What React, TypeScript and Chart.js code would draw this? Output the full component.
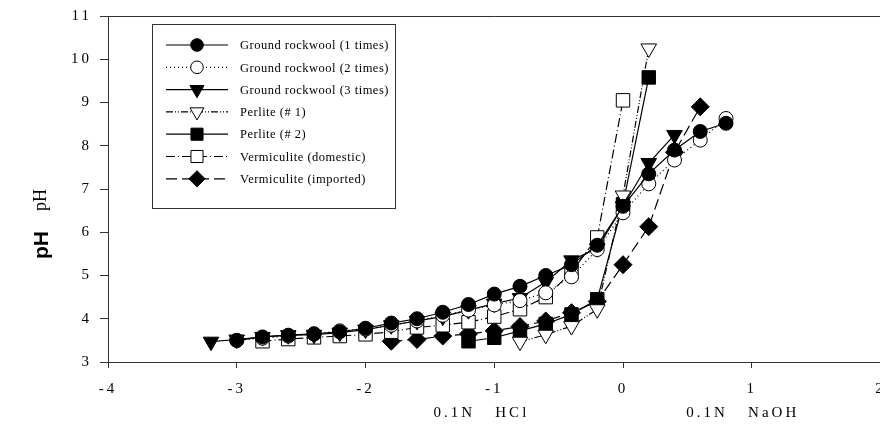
import React, { useEffect, useRef } from 'react';
import { Chart, registerables } from 'chart.js';
Chart.register(...registerables);

// ---- data ----
const gr1X = [-3.0, -2.8, -2.6, -2.4, -2.2, -2.0, -1.8, -1.6, -1.4, -1.2, -1.0, -0.8, -0.6, -0.4, -0.2, 0, 0.2, 0.4, 0.6, 0.8];
const gr1Y = [3.5, 3.58, 3.62, 3.65, 3.7, 3.78, 3.9, 4.0, 4.15, 4.33, 4.57, 4.75, 5.0, 5.25, 5.7, 6.6, 7.35, 7.9, 8.33, 8.52];
const gr2X = [-3.0, -2.8, -2.6, -2.4, -2.2, -2.0, -1.8, -1.6, -1.4, -1.2, -1.0, -0.8, -0.6, -0.4, -0.2, 0, 0.2, 0.4, 0.6, 0.8];
const gr2Y = [3.5, 3.55, 3.6, 3.65, 3.72, 3.76, 3.85, 3.95, 4.08, 4.2, 4.32, 4.42, 4.6, 4.97, 5.6, 6.45, 7.12, 7.67, 8.13, 8.63];
const gr3X = [-3.2, -3.0, -2.8, -2.6, -2.4, -2.2, -2.0, -1.8, -1.6, -1.4, -1.2, -1.0, -0.8, -0.6, -0.4, -0.2, 0, 0.2, 0.4];
const gr3Y = [3.47, 3.52, 3.58, 3.62, 3.63, 3.68, 3.75, 3.85, 3.95, 4.05, 4.2, 4.35, 4.48, 4.85, 5.35, 5.63, 6.6, 7.6, 8.25];
const p1X = [-0.8, -0.6, -0.4, -0.2, 0, 0.2];
const p1Y = [3.47, 3.63, 3.83, 4.22, 6.85, 10.25];
const p2X = [-1.2, -1.0, -0.8, -0.6, -0.4, -0.2, 0, 0.2];
const p2Y = [3.48, 3.56, 3.72, 3.88, 4.1, 4.45, 6.65, 9.58];
const vdX = [-2.8, -2.6, -2.4, -2.2, -2.0, -1.8, -1.6, -1.4, -1.2, -1.0, -0.8, -0.6, -0.4, -0.2, 0];
const vdY = [3.48, 3.53, 3.57, 3.6, 3.64, 3.7, 3.8, 3.85, 3.92, 4.05, 4.22, 4.5, 5.08, 5.88, 9.05];
const viX = [-1.8, -1.6, -1.4, -1.2, -1.0, -0.8, -0.6, -0.4, -0.2, 0, 0.2, 0.4, 0.6];
const viY = [3.48, 3.52, 3.6, 3.65, 3.72, 3.82, 3.95, 4.14, 4.4, 5.25, 6.13, 7.85, 8.9];

const seriesLabels = [
  'Ground rockwool (1 times)',
  'Ground rockwool (2 times)',
  'Ground rockwool (3 times)',
  'Perlite (# 1)',
  'Perlite (# 2)',
  'Vermiculite (domestic)',
  'Vermiculite (imported)',
];
const xTitleLeft = '0.1N   HCl';
const xTitleRight = '0.1N   NaOH';
const yTitleBold = 'pH';
const yTitleSerif = 'pH';

const SERIF = '"Liberation Serif", "Times New Roman", serif';
const SANS = '"Liberation Sans", Arial, sans-serif';

type Style = { pointStyle: string; fill: boolean; dash: number[]; radius: number; rot: number };
const styles: Style[] = [
  { pointStyle: 'circle', fill: true, dash: [], radius: 7, rot: 0 },
  { pointStyle: 'circle', fill: false, dash: [1, 3], radius: 7, rot: 0 },
  { pointStyle: 'triangle', fill: true, dash: [], radius: 9, rot: 180 },
  { pointStyle: 'triangle', fill: false, dash: [7, 2, 1, 2, 1, 2], radius: 9, rot: 180 },
  { pointStyle: 'rect', fill: true, dash: [], radius: 9.5, rot: 0 },
  { pointStyle: 'rect', fill: false, dash: [9, 3, 1, 3], radius: 9.5, rot: 0 },
  { pointStyle: 'rectRot', fill: true, dash: [11, 5], radius: 9, rot: 0 },
];

function drawMarker(ctx: CanvasRenderingContext2D, s: Style, x: number, y: number, r: number) {
  ctx.save();
  ctx.setLineDash([]);
  ctx.lineWidth = 1;
  ctx.strokeStyle = '#000';
  ctx.fillStyle = s.fill ? '#000' : '#fff';
  ctx.beginPath();
  if (s.pointStyle === 'circle') {
    ctx.arc(x, y, r, 0, Math.PI * 2);
  } else if (s.pointStyle === 'triangle') {
    const rad = (s.rot * Math.PI) / 180;
    for (let i = 0; i < 3; i++) {
      const a = rad + (i * 2 * Math.PI) / 3;
      const px = x + Math.sin(a) * r;
      const py = y - Math.cos(a) * r;
      if (i === 0) ctx.moveTo(px, py);
      else ctx.lineTo(px, py);
    }
    ctx.closePath();
  } else if (s.pointStyle === 'rect') {
    const h = r * Math.SQRT1_2;
    ctx.rect(x - h, y - h, 2 * h, 2 * h);
  } else {
    ctx.moveTo(x, y - r);
    ctx.lineTo(x + r, y);
    ctx.lineTo(x, y + r);
    ctx.lineTo(x - r, y);
    ctx.closePath();
  }
  ctx.fill();
  ctx.stroke();
  ctx.restore();
}

const CANVAS_W = 891;

export default function App() {
  const ref = useRef<HTMLCanvasElement>(null);
  useEffect(() => {
    document.body.style.margin = '0';
    const canvas = ref.current!;
    const mk = (xs: number[], ys: number[]) => xs.map((x, i) => ({ x, y: ys[i] }));
    const xsList = [gr1X, gr2X, gr3X, p1X, p2X, vdX, viX];
    const ysList = [gr1Y, gr2Y, gr3Y, p1Y, p2Y, vdY, viY];
    const datasets = seriesLabels.map((label, i) => {
      const s = styles[i];
      return {
        label,
        data: mk(xsList[i], ysList[i]),
        showLine: true,
        borderColor: '#000',
        borderWidth: 1.2,
        borderDash: s.dash,
        pointStyle: s.pointStyle,
        pointRotation: s.rot,
        pointRadius: s.radius,
        pointBorderWidth: 1,
        pointBorderColor: '#000',
        pointBackgroundColor: s.fill ? '#000' : '#fff',
        tension: 0,
      };
    });

    const overlay = {
      id: 'overlay',
      beforeDraw(chart: any) {
        const c = chart.ctx as CanvasRenderingContext2D;
        c.save();
        c.fillStyle = '#fff';
        c.fillRect(0, 0, chart.width, chart.height);
        c.restore();
        (c as any).letterSpacing = '3px';
      },
      afterDraw(chart: any) {
        const c = chart.ctx as CanvasRenderingContext2D;
        const area = chart.chartArea;
        const xs = chart.scales.x;
        c.save();
        // top frame line
        c.strokeStyle = '#333';
        c.lineWidth = 1;
        c.beginPath();
        c.moveTo(area.left, Math.round(area.top) + 0.5);
        c.lineTo(area.right, Math.round(area.top) + 0.5);
        c.stroke();

        // x sub titles
        (c as any).letterSpacing = '3px';
        c.fillStyle = '#000';
        c.font = `15px ${SERIF}`;
        c.textAlign = 'center';
        c.textBaseline = 'middle';
        c.fillText(xTitleLeft, xs.getPixelForValue(-1.1), 413);
        c.fillText(xTitleRight, xs.getPixelForValue(0.93), 413);

        // y title
        (c as any).letterSpacing = '0px';
        c.save();
        c.translate(42, 259);
        c.rotate(-Math.PI / 2);
        c.textAlign = 'left';
        c.textBaseline = 'middle';
        c.font = `bold 21px ${SANS}`;
        c.fillText(yTitleBold, 0, 0);
        const w = c.measureText(yTitleBold).width;
        c.font = `18px ${SERIF}`;
        c.fillText(yTitleSerif, w + 20, -1);
        c.restore();

        // legend
        const bx = 152.5, by = 24.5, bw = 243, bh = 184;
        c.fillStyle = '#fff';
        c.fillRect(bx, by, bw, bh);
        c.strokeStyle = '#333';
        c.lineWidth = 1;
        c.setLineDash([]);
        c.strokeRect(bx, by, bw, bh);
        seriesLabels.forEach((label, i) => {
          const s = styles[i];
          const y = 45 + i * 22.3;
          c.save();
          c.strokeStyle = '#000';
          c.lineWidth = 1.2;
          c.setLineDash(s.dash);
          c.beginPath();
          c.moveTo(166, y);
          c.lineTo(228, y);
          c.stroke();
          c.restore();
          drawMarker(c, s, 197, y, s.radius * 0.9);
          c.fillStyle = '#000';
          (c as any).letterSpacing = '0.5px';
          c.font = `12.5px ${SERIF}`;
          c.textAlign = 'left';
          c.textBaseline = 'middle';
          c.fillText(label, 240, y + 1);
        });
        c.restore();
      },
    };

    const chart = new Chart(canvas, {
      type: 'scatter',
      data: { datasets } as any,
      options: {
        animation: false,
        responsive: false,
        devicePixelRatio: 1,
        layout: { padding: { top: 16, right: 0, left: 0, bottom: 0 } },
        plugins: { legend: { display: false }, tooltip: { enabled: false } },
        scales: {
          x: {
            type: 'linear',
            min: -4,
            max: 2,
            ticks: { stepSize: 1, color: '#000', font: { family: SERIF, size: 15 }, padding: 12, maxRotation: 0 },
            grid: { display: true, drawOnChartArea: false, drawTicks: true, tickLength: 6, color: '#333' },
            border: { display: true, color: '#333', width: 1 },
            afterFit(scale: any) {
              scale.height = 67;
              scale.paddingLeft = 0;
              scale.paddingRight = 0;
            },
          },
          y: {
            type: 'linear',
            min: 3,
            max: 11,
            ticks: { stepSize: 1, color: '#000', font: { family: SERIF, size: 15 }, padding: 8 },
            grid: { display: true, drawOnChartArea: false, drawTicks: true, tickLength: 8, color: '#333' },
            border: { display: true, color: '#333', width: 1 },
            afterFit(scale: any) {
              scale.width = 108;
              scale.paddingTop = 0;
              scale.paddingBottom = 0;
            },
          },
        },
      } as any,
      plugins: [overlay],
    });
    return () => chart.destroy();
  }, []);
  return (
    <div style={{ position: 'absolute', left: 0, top: 0, width: 880, height: 429, overflow: 'hidden' }}>
      <canvas ref={ref} width={CANVAS_W} height={429} style={{ width: CANVAS_W, height: 429, display: 'block' }} />
    </div>
  );
}
